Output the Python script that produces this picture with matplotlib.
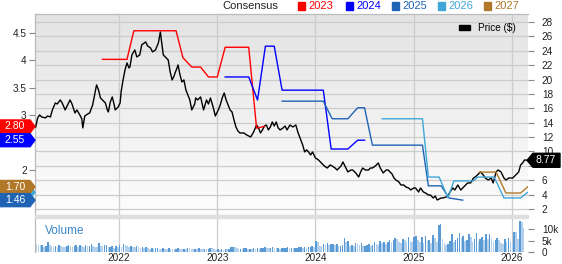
import numpy as np
import matplotlib
matplotlib.use("Agg")
import matplotlib.pyplot as plt
from matplotlib.patches import Polygon, Rectangle
from matplotlib.ticker import FuncFormatter

plt.rcParams['font.family'] = ['Liberation Sans', 'DejaVu Sans']

W, H = 562, 264

# share price ($), dates as decimal years
price_t = [2021.15, 2021.17, 2021.19, 2021.21, 2021.25, 2021.27, 2021.30, 2021.32, 2021.35, 2021.37,
           2021.40, 2021.42, 2021.45, 2021.47, 2021.50, 2021.52, 2021.55, 2021.57, 2021.60, 2021.62,
           2021.63, 2021.65, 2021.68, 2021.70, 2021.73, 2021.77, 2021.79, 2021.81, 2021.83, 2021.86,
           2021.88, 2021.89, 2021.91, 2021.93, 2021.95, 2021.96, 2021.99, 2022.01, 2022.02, 2022.04,
           2022.06, 2022.08, 2022.10, 2022.11, 2022.13, 2022.16, 2022.18, 2022.21, 2022.23, 2022.27,
           2022.29, 2022.32, 2022.34, 2022.37, 2022.40, 2022.42, 2022.43, 2022.45, 2022.47, 2022.50,
           2022.52, 2022.54, 2022.56, 2022.57, 2022.59, 2022.60, 2022.62, 2022.64, 2022.66, 2022.68,
           2022.70, 2022.72, 2022.74, 2022.77, 2022.78, 2022.80, 2022.83, 2022.86, 2022.89, 2022.91,
           2022.93, 2022.96, 2022.98, 2023.01, 2023.03, 2023.05, 2023.07, 2023.09, 2023.11, 2023.13,
           2023.15, 2023.17, 2023.19, 2023.21, 2023.23, 2023.27, 2023.30, 2023.34, 2023.37, 2023.40,
           2023.42, 2023.44, 2023.46, 2023.48, 2023.50, 2023.52, 2023.54, 2023.56, 2023.58, 2023.60,
           2023.62, 2023.64, 2023.67, 2023.69, 2023.71, 2023.74, 2023.77, 2023.80, 2023.82, 2023.85,
           2023.87, 2023.89, 2023.91, 2023.93, 2023.95, 2023.97, 2024.00, 2024.03, 2024.06, 2024.09,
           2024.12, 2024.15, 2024.17, 2024.20, 2024.22, 2024.26, 2024.28, 2024.30, 2024.33, 2024.36,
           2024.38, 2024.41, 2024.44, 2024.46, 2024.48, 2024.51, 2024.54, 2024.56, 2024.58, 2024.61,
           2024.64, 2024.66, 2024.69, 2024.72, 2024.74, 2024.78, 2024.80, 2024.82, 2024.85, 2024.87,
           2024.90, 2024.92, 2024.95, 2024.97, 2025.00, 2025.02, 2025.05, 2025.07, 2025.10, 2025.12,
           2025.15, 2025.17, 2025.20, 2025.22, 2025.24, 2025.28, 2025.30, 2025.33, 2025.35, 2025.37,
           2025.40, 2025.42, 2025.45, 2025.48, 2025.50, 2025.53, 2025.55, 2025.58, 2025.61, 2025.64,
           2025.68, 2025.71, 2025.73, 2025.76, 2025.79, 2025.81, 2025.84, 2025.86, 2025.89, 2025.92,
           2025.94, 2025.97, 2026.01, 2026.04, 2026.07, 2026.09, 2026.11, 2026.13, 2026.16]
price_v = [13.40, 14.66, 15.07, 14.80, 14.66, 14.93, 14.80, 15.77, 16.74, 16.60,
           17.16, 16.74, 15.77, 16.33, 17.16, 16.60, 15.35, 15.77, 15.07, 14.52,
           13.27, 14.93, 15.21, 15.35, 16.46, 19.25, 18.55, 17.44, 17.16, 16.74,
           15.77, 15.49, 16.88, 17.58, 16.46, 15.77, 16.19, 16.74, 18.27, 19.94,
           21.33, 22.31, 21.61, 21.75, 23.42, 24.11, 23.14, 23.42, 24.81, 25.23,
           24.67, 24.39, 23.84, 24.11, 25.09, 26.62, 25.51, 23.42, 23.14, 22.72,
           21.05, 19.94, 20.50, 20.92, 21.61, 22.03, 20.64, 19.66, 19.94, 18.55,
           17.86, 17.16, 15.77, 16.60, 17.44, 17.16, 17.58, 15.77, 17.16, 16.60,
           17.44, 16.05, 14.93, 15.77, 16.46, 17.44, 18.13, 17.16, 16.46, 15.77,
           15.49, 14.38, 13.40, 12.85, 12.57, 12.57, 12.29, 12.01, 12.71, 13.68,
           13.27, 12.57, 12.99, 13.54, 13.68, 12.99, 13.40, 14.10, 13.54, 14.10,
           13.27, 12.99, 13.27, 13.54, 12.99, 13.68, 13.40, 13.68, 12.71, 11.60,
           10.90, 9.93, 10.21, 9.93, 9.51, 9.93, 9.09, 8.82, 8.40, 7.98,
           7.70, 8.12, 7.98, 7.70, 7.42, 7.98, 8.54, 7.98, 7.15, 7.42,
           7.42, 7.01, 6.45, 7.15, 7.70, 7.42, 7.42, 7.70, 7.70, 7.98,
           8.40, 7.70, 7.01, 7.42, 7.42, 6.87, 6.31, 6.03, 5.76, 5.34,
           5.34, 5.06, 4.92, 4.64, 4.92, 4.92, 4.36, 4.92, 4.36, 4.23,
           3.95, 3.95, 3.53, 3.81, 3.25, 3.53, 3.53, 3.67, 3.81, 4.36,
           4.92, 4.64, 5.34, 4.64, 4.92, 5.34, 5.62, 5.62, 6.31, 6.59,
           7.15, 6.73, 6.31, 6.03, 6.31, 5.62, 7.15, 7.42, 7.15, 6.31,
           6.03, 6.31, 6.31, 6.73, 7.15, 8.12, 8.40, 8.82, 8.77]
last_price = 8.77

# consensus EPS estimates per fiscal year (left axis)
fy2023_t = [2021.83, 2022.08, 2022.15, 2022.58, 2022.65, 2022.74, 2022.83, 2022.91, 2023.00,
            2023.08, 2023.32, 2023.40, 2023.48]
fy2023_v = [4.02, 4.02, 4.54, 4.54, 4.05, 3.88, 3.88, 3.70, 3.70, 4.24, 4.24, 2.77, 2.80]
fy2024_t = [2023.08, 2023.32, 2023.41, 2023.49, 2023.58, 2023.66, 2024.08, 2024.16, 2024.33,
            2024.43, 2024.50]
fy2024_v = [3.70, 3.70, 3.28, 4.26, 4.26, 3.46, 3.46, 2.39, 2.39, 2.55, 2.55]
fy2025_t = [2023.66, 2024.08, 2024.17, 2024.33, 2024.43, 2024.50, 2024.58, 2025.09, 2025.15,
            2025.28, 2025.36, 2025.50]
fy2025_v = [3.26, 3.26, 2.94, 2.94, 3.14, 3.14, 2.46, 2.46, 1.72, 1.72, 1.50, 1.46]
fy2026_t = [2024.68, 2025.09, 2025.15, 2025.26, 2025.35, 2025.41, 2025.61, 2025.65, 2025.82,
            2025.92, 2026.09, 2026.16]
fy2026_v = [2.94, 2.94, 1.88, 1.88, 1.50, 1.81, 1.81, 1.88, 1.88, 1.50, 1.50, 1.60]
fy2027_t = [2025.67, 2025.84, 2025.94, 2026.09, 2026.16]
fy2027_v = [1.97, 1.97, 1.59, 1.59, 1.70]

years = ['2023', '2024', '2025', '2026', '2027']
year_colors = ['#ff0000', '#0000ff', '#1f63b5', '#3fa6d8', '#b07828']

# weekly volume (thousands), starting week of 2021-02-22
vol_2021 = [4.8, 3.6, 3.2, 2.9, 3.0, 2.4, 2.6, 4.6, 3.0, 2.5, 2.2, 2.8, 2.4, 3.3, 2.6, 2.2, 2.0, 2.7,
            3.1, 2.5, 2.3, 2.8, 3.2, 2.4, 2.9, 2.6, 2.1, 3.0, 2.5, 2.8, 3.6, 2.6, 2.3, 2.0, 3.9, 2.7,
            2.5, 2.9, 3.1, 2.2, 2.4, 2.6, 1.9, 2.7, 2.3]
vol_2022 = [3.0, 2.2, 3.4, 2.9, 2.6, 2.0, 2.7, 2.4, 2.1, 2.5, 2.2, 1.9, 2.3, 1.8, 2.0, 1.6, 1.5, 1.8,
            1.4, 1.6, 1.7, 1.5, 1.3, 1.6, 1.5, 1.4, 1.7, 1.5, 1.3, 1.2, 1.5, 1.6, 1.4, 1.3, 1.5, 1.4,
            1.8, 1.6, 1.4, 1.2, 1.5, 1.3, 1.6, 1.4, 1.2, 1.5, 1.3, 1.4, 1.8, 1.6, 1.2, 1.1]
vol_2023 = [1.2, 1.0, 1.4, 1.1, 1.3, 1.2, 1.5, 2.0, 2.4, 2.2, 1.6, 1.4, 1.5, 1.3, 1.6, 1.7, 1.4, 1.5,
            1.3, 1.6, 1.5, 1.7, 1.4, 1.6, 1.8, 2.0, 1.9, 1.7, 1.8, 2.0, 1.9, 1.6, 1.7, 1.5, 1.6, 1.8,
            1.9, 2.0, 1.7, 1.8, 1.6, 1.7, 1.8, 2.0, 2.1, 1.9, 2.2, 1.8, 2.0, 2.4, 2.6, 2.2]
vol_2024 = [5.0, 4.6, 2.8, 2.2, 3.6, 3.0, 3.8, 3.2, 3.4, 3.6, 3.0, 3.4, 2.6, 2.8, 3.0, 6.0, 4.4, 5.0,
            2.6, 3.0, 2.8, 4.0, 3.6, 3.2, 3.8, 2.6, 2.8, 3.2, 3.6, 2.8, 3.0, 4.4, 3.4, 3.0, 4.8, 3.8,
            4.6, 3.6, 4.2, 5.2, 4.0, 5.4, 6.0, 5.6, 4.6, 3.8, 5.8, 5.2, 4.4, 6.4, 4.8, 4.2]
vol_2025 = [6.8, 7.0, 5.2, 4.6, 6.6, 4.0, 7.2, 5.0, 5.4, 3.8, 7.4, 6.0, 4.4, 11.8, 12.2, 5.6, 4.0, 3.2,
            3.6, 5.0, 8.0, 4.6, 5.4, 6.2, 8.6, 6.0, 7.2, 5.0, 5.4, 8.0, 6.8, 4.2, 5.6, 8.6, 4.8, 5.8,
            6.4, 5.2, 7.8, 5.6, 7.8, 6.2, 4.4, 5.4, 6.0, 5.2, 4.0, 3.4, 5.6, 4.2, 6.0, 5.0]
vol_2026 = [3.6, 9.0, 8.8, 5.6, 13.6, 13.2, 10.6]

volume = np.array(vol_2021 + vol_2022 + vol_2023 + vol_2024 + vol_2025 + vol_2026) * 1000
vol_t = 2021.14 + np.arange(len(volume)) / 52.0

x_min, x_max = 2021.143, 2026.165
year_ticks = [2022, 2023, 2024, 2025, 2026]

GRID = '#cccccc'
TXT = '#222222'


def px_box(l, t, r, b):
    return [l / W, 1 - b / H, (r - l) / W, (b - t) / H]


fig = plt.figure(figsize=(W / 100, H / 100), dpi=100)
fig.patch.set_facecolor('white')

# ---- price panel (right axis) + consensus twin (left axis) ----
ax_p = fig.add_axes(px_box(35, 14, 528, 215))
ax_c = ax_p.twinx()
ax_p.yaxis.tick_right()
ax_c.yaxis.tick_left()

grad = np.linspace(0, 1, 256).reshape(-1, 1)
ax_p.imshow(grad, cmap=matplotlib.colors.LinearSegmentedColormap.from_list('bg', ['#e3e3e3', '#fdfdfd']),
            extent=[0, 1, 0, 1], transform=ax_p.transAxes, aspect='auto', zorder=0, origin='upper')
ax_p.plot(price_t, price_v, color='black', lw=1.0, zorder=3)
ax_p.set_xlim(x_min, x_max)
ax_p.set_ylim(1.165, 29.11)
ax_p.set_yticks(np.arange(2, 29, 2))
# the "8" label sits under the last-price tag
ax_p.yaxis.set_major_formatter(FuncFormatter(lambda v, p: '' if v == 8 else f'{v:g}'))
ax_p.set_xticks(year_ticks)
ax_p.tick_params(axis='x', length=0, labelbottom=False)
ax_p.tick_params(axis='y', length=4, width=0.8, color='#888888', labelsize=7.2, labelcolor=TXT, pad=6)
ax_p.grid(True, color=GRID, lw=0.9, zorder=1)
for s in ['right', 'bottom']:
    ax_p.spines[s].set_visible(False)
for s in ['left', 'top']:
    ax_p.spines[s].set_color('#bbbbbb')
    ax_p.spines[s].set_linewidth(0.9)

series = [(fy2023_t, fy2023_v), (fy2024_t, fy2024_v), (fy2025_t, fy2025_v),
          (fy2026_t, fy2026_v), (fy2027_t, fy2027_v)]
for (t, v), c in zip(series, year_colors):
    ax_c.plot(t, v, color=c, lw=1.0, zorder=4)
ax_c.set_xlim(x_min, x_max)
ax_c.set_ylim(1.19, 4.845)
ax_c.set_yticks([2, 3, 3.5, 4, 4.5])
ax_c.yaxis.set_major_formatter(FuncFormatter(lambda v, p: f'{v:g}'))
ax_c.tick_params(axis='y', length=4, width=0.8, color='#888888', labelsize=7.2, labelcolor=TXT, pad=2)
for s in ax_c.spines.values():
    s.set_visible(False)

ax_c.legend([Rectangle((0, 0), 1, 1, color='black')], ['Price ($)'], loc='upper right',
            frameon=False, fontsize=7.2, handlelength=1.1, handleheight=0.45,
            borderaxespad=0.3, bbox_to_anchor=(0.99, 0.99))

# ---- volume panel ----
ax_v = fig.add_axes(px_box(35, 218, 528, 252))
up = np.r_[True, volume[1:] >= volume[:-1]]
ax_v.bar(vol_t, volume, width=0.85 / 52, color=np.where(up, '#5b9bd5', '#b3d1ec'), zorder=2)
ax_v.set_xlim(x_min, x_max)
ax_v.set_ylim(0, 15000)
ax_v.yaxis.tick_right()
ax_v.set_yticks([0, 5000, 10000])
ax_v.set_yticklabels(['0', '5k', '10k'])
ax_v.set_xticks(year_ticks)
ax_v.set_xticklabels([str(y) for y in year_ticks])
ax_v.tick_params(axis='x', length=0, labelsize=7.2, labelcolor=TXT, pad=1)
ax_v.tick_params(axis='y', length=4, width=0.8, color='#888888', labelsize=7.2, labelcolor=TXT, pad=6)
ax_v.grid(True, axis='x', color=GRID, lw=0.9, zorder=1)
for s in ['right', 'bottom', 'top']:
    ax_v.spines[s].set_visible(False)
ax_v.spines['left'].set_color('#bbbbbb')
ax_v.spines['left'].set_linewidth(0.9)
ax_v.text(0.02, 0.52, 'Volume', transform=ax_v.transAxes, color='#3a86c8', fontsize=8.5)

# separator band between panels
fig.patches.append(Rectangle((35 / W, 1 - 218 / H), (528 - 35) / W, 3 / H,
                             transform=fig.transFigure, color='#dedede', zorder=1))

# ---- header legend ----
fig.text(222 / W, 1 - 6 / H, 'Consensus', color=TXT, fontsize=8, va='center')
leg_x = [298, 346, 392, 438, 484]
for x0, y, c in zip(leg_x, years, year_colors):
    fig.patches.append(Rectangle((x0 / W, 1 - 10 / H), 7 / W, 8 / H, transform=fig.transFigure,
                                 color=c, zorder=2))
    fig.text((x0 + 10) / W, 1 - 6 / H, y, color=c, fontsize=8, va='center')


# ---- value tags ----
def fig_y(ax, v):
    return fig.transFigure.inverted().transform(ax.transData.transform((x_min, v)))[1]


def left_tag(v, color, show_text=True):
    yc = fig_y(ax_c, v)
    h = 6.5 / H
    verts = [(0, yc - h), (30 / W, yc - h), (35 / W, yc), (30 / W, yc + h), (0, yc + h)]
    fig.patches.append(Polygon(verts, closed=True, transform=fig.transFigure, color=color, zorder=5))
    if show_text:
        fig.text(15 / W, yc, f'{v:.2f}', color='white', fontsize=7.5, ha='center', va='center', zorder=6)


last_vals = [fy2023_v[-1], fy2024_v[-1], fy2025_v[-1], fy2026_v[-1], fy2027_v[-1]]
left_tag(last_vals[3], year_colors[3], show_text=False)   # 2026 sits behind 2027 / 2025
for i in [0, 1, 4, 2]:
    left_tag(last_vals[i], year_colors[i])

yc = fig_y(ax_p, last_price)
h = 7 / H
verts = [(527 / W, yc), (533 / W, yc + h), (560 / W, yc + h), (560 / W, yc - h), (533 / W, yc - h)]
fig.patches.append(Polygon(verts, closed=True, transform=fig.transFigure, color='black', zorder=5))
fig.text(546 / W, yc, f'{last_price:.2f}', color='white', fontsize=7.5, ha='center', va='center', zorder=6)

fig.savefig('out.png', dpi=100)
